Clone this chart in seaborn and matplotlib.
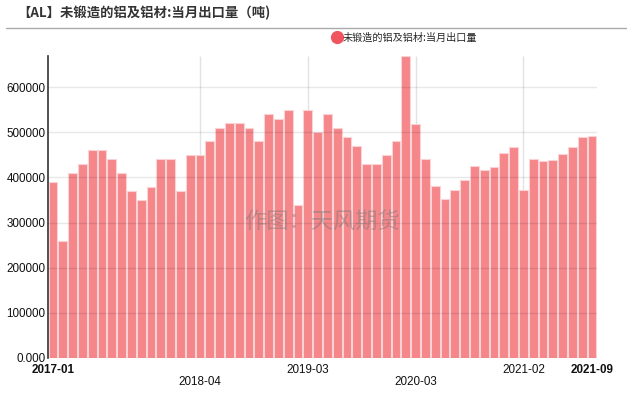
import matplotlib
matplotlib.use("Agg")
import matplotlib.pyplot as plt
import seaborn as sns
import pandas as pd
from matplotlib.lines import Line2D

# ──────────────────────────────────────────────
# Data (tons), monthly; 2020 Jan-Feb reported together
# ──────────────────────────────────────────────
months = (
    [f"2017-{m:02d}" for m in range(1, 13)]
    + [f"2018-{m:02d}" for m in range(1, 13)]
    + [f"2019-{m:02d}" for m in range(1, 13)]
    + ["2020-02"]
    + [f"2020-{m:02d}" for m in range(3, 13)]
    + [f"2021-{m:02d}" for m in range(1, 10)]
)
exports = [
    390000, 260000, 410000, 430000, 460000, 460000, 440000, 410000, 370000, 350000, 380000, 440000,
    440000, 370000, 450000, 450000, 480000, 510000, 520000, 520000, 510000, 480000, 540000, 530000,
    550000, 340000, 550000, 500000, 540000, 510000, 490000, 470000, 430000, 430000, 450000, 480000,
    669000,
    518000, 440000, 381000, 352000, 372000, 394000, 425000, 417000, 423000, 455000, 467000,
    372000, 442000, 436000, 438000, 453000, 467000, 489000, 491000,
]
tick_months = ["2017-01", "2018-04", "2019-03", "2020-03", "2021-02", "2021-09"]
series_name = "未锻造的铝及铝材:当月出口量"
title = "【AL】未锻造的铝及铝材:当月出口量（吨)"

df = pd.DataFrame({"month": months, "value": exports})

sns.set_theme(style="white")
plt.rcParams["font.family"] = ["Liberation Sans", "Noto Sans CJK SC", "DejaVu Sans"]
cjk = ["Noto Sans CJK SC", "DejaVu Sans"]

fig = plt.figure(figsize=(6.27, 3.95), dpi=100)
ax = fig.add_axes([0.0766, 0.0937, 0.8754, 0.7643])

sns.barplot(data=df, x="month", y="value", color="#F5868A", saturation=1,
            width=0.9, edgecolor="#FBD3D5", linewidth=0.8, ax=ax, zorder=2)

ymax = max(exports)
ax.set_ylim(0, ymax)
ax.set_xlim(-0.5, len(months) - 0.5)
ax.set_yticks(range(0, 600001, 100000))
ax.set_yticklabels(["0.000"] + [str(v) for v in range(100000, 600001, 100000)],
                   fontsize=8.4, color="#111111")

# x ticks, staggered in two rows
pos = [months.index(m) for m in tick_months]
labels = []
for i, m in enumerate(tick_months):
    labels.append("\n" + m if i in (1, 3) else m)
ax.set_xticks(pos)
ax.set_xticklabels(labels, fontsize=8.4, color="#111111", linespacing=1.05)
for i, t in enumerate(ax.get_xticklabels()):
    if i in (0, len(tick_months) - 1):
        t.set_fontweight("bold")

ax.tick_params(axis="y", length=0, pad=2)
ax.tick_params(axis="x", length=0, pad=4)
ax.set_xlabel("")
ax.set_ylabel("")

# vertical grid only above the bars (inner ticks), horizontal grid over everything
ax.xaxis.grid(False)
inner = pos[1:-1]
ax.vlines(inner, [exports[p] for p in inner], ymax, colors="#e2e2e2",
          linewidth=1, zorder=0.5)
ax.yaxis.grid(True, color="black", alpha=0.09, linewidth=1)
ax.yaxis.set_zorder(3)

for s in ["top", "right", "bottom"]:
    ax.spines[s].set_visible(False)
ax.spines["left"].set_color("#333333")
ax.spines["left"].set_linewidth(1.2)
ax.spines["left"].set_zorder(4)

# title, separator, legend
fig.text(0.027, 0.966, title, fontsize=9.6, family=cjk, fontweight="bold",
         color="#333333", va="center", ha="left")
fig.add_artist(Line2D([0.01, 1.0], [0.928, 0.928], color="#aaaaaa", linewidth=1))
handle = Line2D([], [], marker="o", linestyle="none", markersize=8.5,
                markerfacecolor="#F0555F", markeredgecolor="#F0555F")
leg = fig.legend([handle], [series_name], loc="center right",
                 bbox_to_anchor=(0.767, 0.904), frameon=False,
                 prop={"family": cjk, "size": 7.3}, handletextpad=0.05,
                 borderaxespad=0, handlelength=1)

# watermark
ax.text(0.5, 0.45, "作图：天风期货", transform=ax.transAxes, fontsize=16,
        family=cjk, color="#777777", alpha=0.45, ha="center", va="center", zorder=5)

fig.savefig("out.png", dpi=100)
